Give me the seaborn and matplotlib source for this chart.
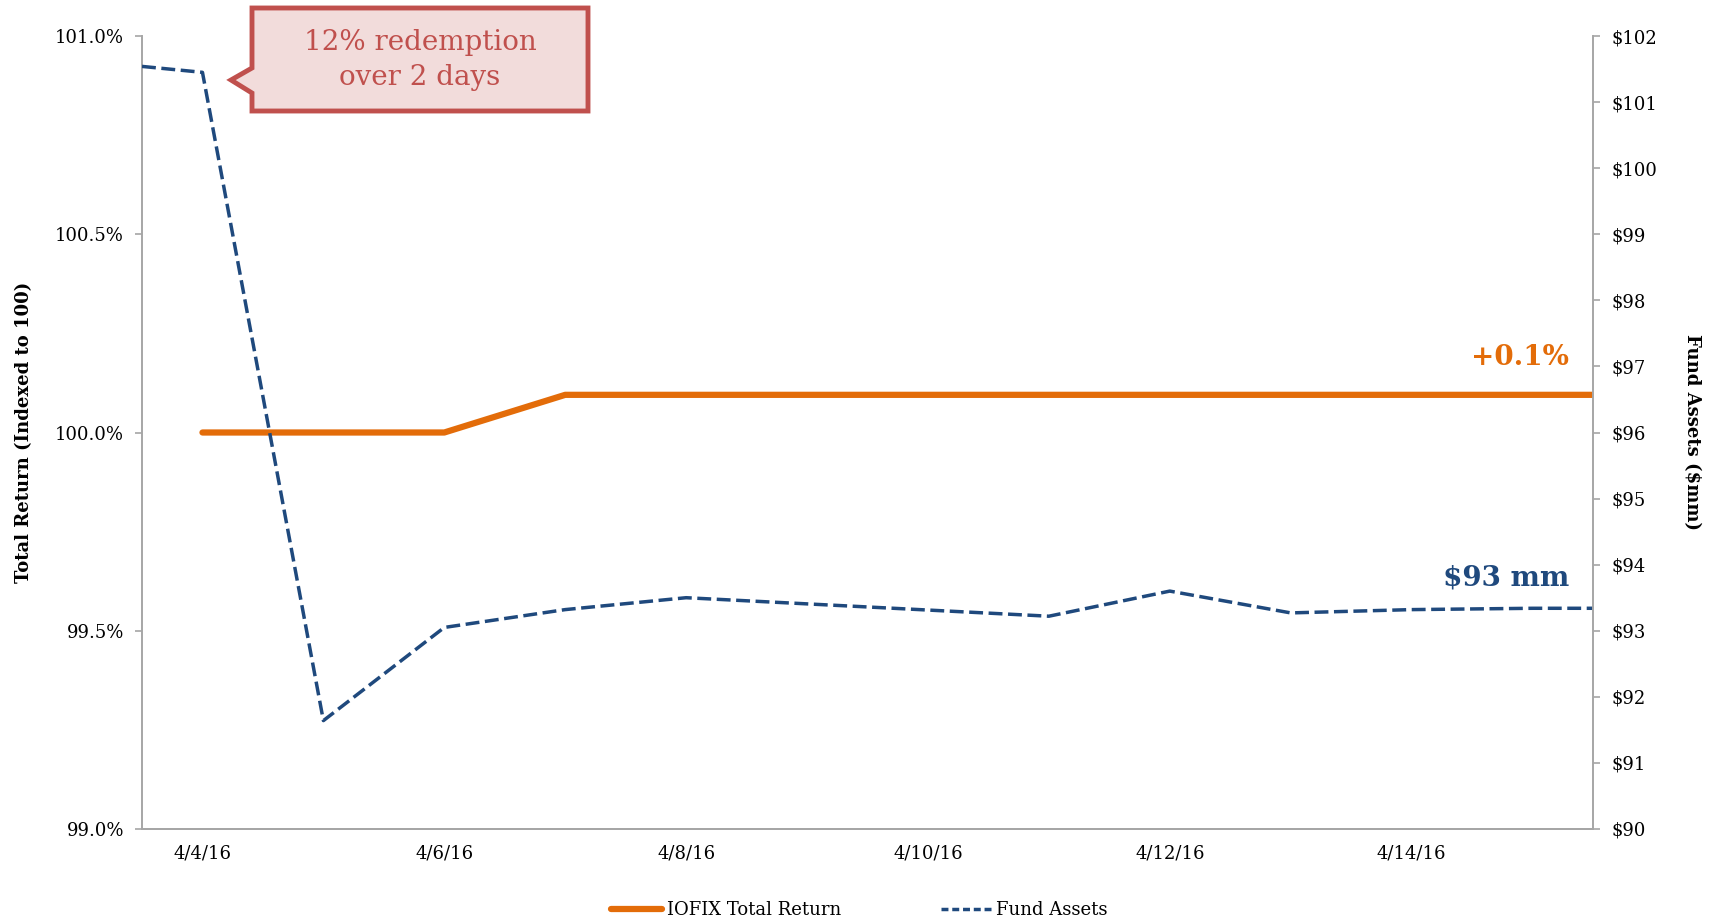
import numpy as np
import pandas as pd
import seaborn as sns
import matplotlib.pyplot as plt
from matplotlib.patches import Polygon
from matplotlib.lines import Line2D

# day of April 2016 (fractional half-days are where the lines meet the plot edges)
ret_days = [4, 5, 6, 7, 8, 11, 12, 13, 14, 15, 15.5]
total_return = [100.0, 100.0, 100.0, 100.095, 100.095, 100.095, 100.095, 100.095, 100.095, 100.095, 100.095]

fund_days = [3.5, 4, 5, 6, 7, 8, 11, 12, 13, 14, 15, 15.5]
fund_assets = [101.54, 101.45, 91.64, 93.05, 93.32, 93.50, 93.22, 93.60, 93.27, 93.32, 93.34, 93.34]

tick_days = [4, 6, 8, 10, 12, 14]
tick_labels = ['4/4/16', '4/6/16', '4/8/16', '4/10/16', '4/12/16', '4/14/16']

ORANGE = '#E36C09'
BLUE = '#1F497D'
RED = '#C0504D'
GREY = '#A6A6A6'

sns.set_style('white')
plt.rcParams['font.family'] = ['DejaVu Serif']
plt.rcParams['font.size'] = 13
plt.rcParams['text.color'] = 'black'
plt.rcParams['axes.labelcolor'] = 'black'
plt.rcParams['xtick.labelcolor'] = 'black'
plt.rcParams['ytick.labelcolor'] = 'black'

df_ret = pd.DataFrame({'day': ret_days, 'ret': total_return})
df_fund = pd.DataFrame({'day': fund_days, 'assets': fund_assets})

W, H = 1719, 923
fig = plt.figure(figsize=(W / 100, H / 100), dpi=100)
ax = fig.add_axes([142 / W, 1 - 829 / H, (1593 - 142) / W, (829 - 36) / H])
ax2 = ax.twinx()

sns.lineplot(data=df_ret, x='day', y='ret', ax=ax, color=ORANGE, linewidth=4.5,
             solid_capstyle='round', zorder=3)
sns.lineplot(data=df_fund, x='day', y='assets', ax=ax2, color=BLUE, linewidth=2.5,
             dashes=False, zorder=2)
ax2.lines[0].set_dashes((4.0, 1.6))

ax.set_xlim(3.5, 15.5)
ax.set_ylim(99.0, 101.0)
ax2.set_ylim(90, 102)

ax.set_yticks(np.arange(99.0, 101.01, 0.5))
ax.set_yticklabels([f'{v:.1f}%' for v in np.arange(99.0, 101.01, 0.5)])
ax2.set_yticks(range(90, 103))
ax2.set_yticklabels([f'${v}' for v in range(90, 103)])

ax.set_xticks(tick_days)
ax.set_xticklabels(tick_labels)
ax.set_xticks(np.arange(3.5, 15.6, 2), minor=True)
ax.tick_params(axis='x', which='major', length=0, pad=11)
ax.tick_params(axis='x', which='minor', length=6, color=GREY, width=1.2)
ax.tick_params(axis='y', length=5, color=GREY, width=1.2, pad=8, left=True)
ax2.tick_params(axis='y', length=5, color=GREY, width=1.2, pad=8, right=True)

for a in (ax, ax2):
    a.set_xlabel('')
    for s in a.spines.values():
        s.set_color(GREY)
        s.set_linewidth(1.4)
    a.spines['top'].set_visible(False)
ax2.spines['left'].set_visible(False)
ax.spines['right'].set_visible(False)

ax.set_ylabel('Total Return (Indexed to 100)', fontweight='bold', fontsize=13, labelpad=16)
ax2.set_ylabel('Fund Assets ($mm)', fontweight='bold', fontsize=13, rotation=270, labelpad=32)

# end labels
ax.text(15.3, 100.19, '+0.1%', color=ORANGE, fontsize=20, fontweight='bold',
        ha='right', va='center')
ax2.text(15.3, 93.8, '$93 mm', color=BLUE, fontsize=20, fontweight='bold',
         ha='right', va='center')

# callout box
pts = [(252, 8), (588, 8), (588, 111), (252, 111), (252, 93), (231, 80), (252, 68)]
callout = Polygon([(x / W, 1 - y / H) for x, y in pts], closed=True,
                  transform=fig.transFigure, facecolor='#F2DCDB', edgecolor=RED,
                  linewidth=3.5, joinstyle='miter', zorder=5)
fig.patches.append(callout)
fig.text(420 / W, 1 - 60 / H, '12% redemption\nover 2 days', color=RED, fontsize=20,
         ha='center', va='center', linespacing=1.4, zorder=6)

handles = [Line2D([], [], color=ORANGE, linewidth=4.5, solid_capstyle='round'),
           Line2D([], [], color=BLUE, linewidth=2.5, dashes=(2.0, 1.1))]
fig.legend(handles, ['IOFIX Total Return', 'Fund Assets'], loc='center',
           bbox_to_anchor=(0.5, 1 - 910 / H), ncol=2, frameon=False, fontsize=13,
           handlelength=2.8, columnspacing=5.5, handletextpad=0.3)

fig.savefig('out.png', dpi=100)
